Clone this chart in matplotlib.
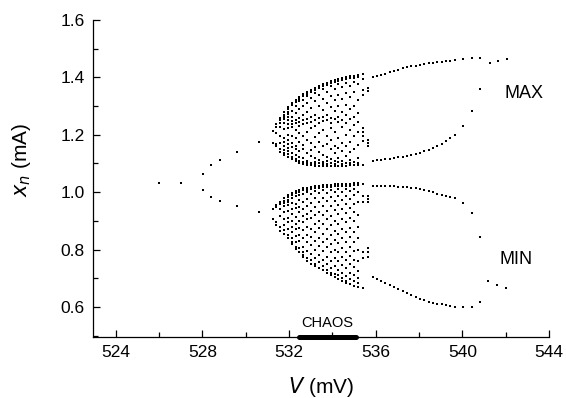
import matplotlib
matplotlib.use("Agg")
import matplotlib.pyplot as plt
from matplotlib.ticker import MultipleLocator, FormatStrFormatter

plt.rcParams['font.family'] = ['Liberation Sans', 'DejaVu Sans']

# ---- period-doubling route (V in mV, x_n in mA) ----
pre_v = [526.0, 527.0, 528.03, 528.03, 528.4, 528.4, 528.8, 528.8, 529.6, 529.6,
         530.6, 530.6, 531.24, 531.24, 531.24, 531.24]
pre_x = [1.033, 1.033, 1.063, 1.008, 1.094, 0.982, 1.113, 0.969, 1.140, 0.953,
         1.175, 0.931, 1.212, 1.172, 0.940, 0.906]

# ---- chaotic region: one column of maxima / minima per V ----
chaos_v = [531.40, 531.58, 531.76, 531.94, 532.12, 532.30, 532.48, 532.66, 532.84,
           533.02, 533.20, 533.38, 533.56, 533.74, 533.92, 534.10, 534.28, 534.46,
           534.64, 534.82, 535.00, 535.18, 535.42, 535.65]
chaos_max = [
    [1.236, 1.228, 1.206, 1.166, 1.160],
    [1.258, 1.250, 1.242, 1.228, 1.195, 1.170, 1.150, 1.140],
    [1.278, 1.270, 1.262, 1.254, 1.240, 1.221, 1.190, 1.176, 1.160, 1.148, 1.138, 1.128],
    [1.296, 1.288, 1.280, 1.272, 1.262, 1.250, 1.236, 1.222, 1.200, 1.180, 1.166, 1.155, 1.145, 1.133, 1.121],
    [1.310, 1.302, 1.284, 1.262, 1.247, 1.236, 1.226, 1.195, 1.170, 1.158, 1.138, 1.124, 1.114],
    [1.322, 1.314, 1.300, 1.275, 1.252, 1.241, 1.218, 1.188, 1.162, 1.150, 1.128, 1.114, 1.107],
    [1.333, 1.326, 1.318, 1.290, 1.258, 1.246, 1.232, 1.205, 1.176, 1.142, 1.121, 1.108, 1.102],
    [1.342, 1.335, 1.322, 1.300, 1.268, 1.250, 1.238, 1.196, 1.165, 1.150, 1.118, 1.104, 1.098],
    [1.350, 1.343, 1.334, 1.310, 1.280, 1.255, 1.240, 1.210, 1.180, 1.135, 1.110, 1.101, 1.095],
    [1.357, 1.350, 1.328, 1.292, 1.262, 1.244, 1.222, 1.170, 1.148, 1.125, 1.100, 1.093],
    [1.363, 1.356, 1.346, 1.318, 1.270, 1.252, 1.230, 1.192, 1.158, 1.118, 1.106, 1.098, 1.092],
    [1.369, 1.362, 1.340, 1.300, 1.258, 1.240, 1.205, 1.176, 1.140, 1.112, 1.100, 1.092],
    [1.375, 1.368, 1.358, 1.326, 1.285, 1.262, 1.248, 1.215, 1.160, 1.130, 1.105, 1.098, 1.092],
    [1.381, 1.374, 1.350, 1.312, 1.270, 1.252, 1.196, 1.168, 1.122, 1.108, 1.098, 1.092],
    [1.386, 1.379, 1.368, 1.335, 1.296, 1.258, 1.240, 1.225, 1.180, 1.150, 1.116, 1.100, 1.092],
    [1.390, 1.383, 1.360, 1.320, 1.282, 1.255, 1.210, 1.162, 1.135, 1.110, 1.098, 1.092],
    [1.394, 1.387, 1.375, 1.340, 1.300, 1.262, 1.245, 1.190, 1.155, 1.120, 1.104, 1.092],
    [1.397, 1.390, 1.365, 1.325, 1.278, 1.250, 1.228, 1.172, 1.142, 1.108, 1.098, 1.092],
    [1.400, 1.393, 1.380, 1.345, 1.305, 1.268, 1.240, 1.200, 1.160, 1.125, 1.100, 1.092],
    [1.403, 1.396, 1.370, 1.330, 1.290, 1.255, 1.215, 1.175, 1.140, 1.112, 1.100, 1.093],
    [1.406, 1.399, 1.385, 1.350, 1.300, 1.262, 1.235, 1.195, 1.150, 1.105, 1.093],
    [1.409, 1.402, 1.375, 1.320, 1.275, 1.245, 1.210, 1.165, 1.120, 1.100, 1.093],
    [1.411, 1.395, 1.356, 1.338, 1.222, 1.210, 1.195, 1.178, 1.093],
    [1.362, 1.352, 1.182, 1.170, 1.160],
]
chaos_min = [
    [0.955, 0.948, 0.895, 0.884],
    [0.965, 0.958, 0.940, 0.918, 0.880, 0.866],
    [0.978, 0.970, 0.962, 0.950, 0.930, 0.905, 0.885, 0.868, 0.855],
    [0.990, 0.982, 0.974, 0.965, 0.955, 0.935, 0.910, 0.895, 0.870, 0.852, 0.840],
    [0.998, 0.990, 0.980, 0.962, 0.940, 0.925, 0.900, 0.880, 0.862, 0.840, 0.825, 0.818],
    [1.004, 0.997, 0.985, 0.960, 0.945, 0.915, 0.890, 0.870, 0.848, 0.825, 0.810, 0.802],
    [1.009, 1.002, 0.990, 0.972, 0.948, 0.930, 0.900, 0.875, 0.850, 0.830, 0.805, 0.790],
    [1.013, 1.006, 0.995, 0.965, 0.940, 0.918, 0.895, 0.868, 0.840, 0.810, 0.790, 0.780, 0.773],
    [1.016, 1.009, 1.000, 0.975, 0.952, 0.925, 0.905, 0.880, 0.850, 0.825, 0.795, 0.770, 0.760],
    [1.019, 1.012, 0.992, 0.962, 0.935, 0.910, 0.870, 0.845, 0.815, 0.785, 0.762, 0.750],
    [1.021, 1.014, 1.004, 0.978, 0.948, 0.920, 0.890, 0.860, 0.830, 0.800, 0.770, 0.750, 0.743],
    [1.023, 1.016, 0.996, 0.965, 0.930, 0.900, 0.875, 0.840, 0.812, 0.780, 0.755, 0.736],
    [1.024, 1.017, 1.006, 0.980, 0.950, 0.922, 0.888, 0.855, 0.825, 0.795, 0.765, 0.742, 0.730],
    [1.025, 1.018, 0.998, 0.968, 0.935, 0.905, 0.870, 0.838, 0.808, 0.775, 0.750, 0.728, 0.720],
    [1.026, 1.019, 1.008, 0.982, 0.952, 0.918, 0.885, 0.850, 0.820, 0.790, 0.760, 0.735, 0.718, 0.710],
    [1.027, 1.020, 1.000, 0.970, 0.938, 0.900, 0.865, 0.835, 0.800, 0.770, 0.742, 0.715, 0.703],
    [1.028, 1.021, 1.010, 0.985, 0.955, 0.925, 0.890, 0.855, 0.822, 0.790, 0.760, 0.730, 0.710, 0.697],
    [1.029, 1.022, 1.002, 0.972, 0.940, 0.905, 0.870, 0.840, 0.805, 0.775, 0.745, 0.718, 0.700, 0.690],
    [1.030, 1.023, 1.012, 0.988, 0.958, 0.928, 0.895, 0.860, 0.826, 0.792, 0.762, 0.735, 0.708, 0.692, 0.684],
    [1.030, 1.023, 1.004, 0.975, 0.945, 0.910, 0.875, 0.842, 0.808, 0.778, 0.748, 0.720, 0.698, 0.680],
    [1.031, 1.024, 1.012, 0.990, 0.960, 0.930, 0.898, 0.862, 0.828, 0.795, 0.765, 0.738, 0.710, 0.690, 0.674],
    [1.031, 1.024, 1.000, 0.965, 0.920, 0.880, 0.840, 0.800, 0.760, 0.725, 0.700, 0.682, 0.670],
    [1.030, 0.985, 0.965, 0.790, 0.770, 0.665],
    [0.987, 0.977, 0.967, 0.804, 0.790, 0.775],
]

# ---- period-2 branches after the chaotic window ----
post_v = [535.86, 536.05, 536.25, 536.45, 536.65, 536.85, 537.05, 537.25, 537.45, 537.65,
          537.85, 538.05, 538.25, 538.45, 538.65, 538.85, 539.05, 539.25, 539.45, 539.65,
          540.04, 540.43, 540.81]
post_max_hi = [1.400, 1.404, 1.408, 1.413, 1.418, 1.423, 1.427, 1.431, 1.435, 1.438,
               1.441, 1.444, 1.447, 1.449, 1.451, 1.453, 1.455, 1.457, 1.458, 1.459,
               1.463, 1.466, 1.466]
post_max_lo = [1.108, 1.111, 1.113, 1.115, 1.117, 1.119, 1.121, 1.123, 1.126, 1.129,
               1.133, 1.137, 1.142, 1.148, 1.154, 1.161, 1.168, 1.177, 1.187, 1.199,
               1.231, 1.281, 1.359]
post_min_hi = [1.022, 1.022, 1.022, 1.021, 1.021, 1.020, 1.019, 1.018, 1.017, 1.016,
               1.014, 1.011, 1.007, 1.003, 0.999, 0.995, 0.991, 0.987, 0.983, 0.979,
               0.961, 0.926, 0.845]
post_min_lo = [0.703, 0.698, 0.692, 0.685, 0.678, 0.670, 0.662, 0.654, 0.647, 0.640,
               0.634, 0.628, 0.623, 0.619, 0.615, 0.612, 0.609, 0.607, 0.604, 0.601,
               0.599, 0.601, 0.618]

# ---- period-1 again ----
end_v_max = [541.27, 541.66, 542.05]
end_max = [1.451, 1.458, 1.463]
end_v_min = [541.18, 541.60, 542.00]
end_min = [0.691, 0.677, 0.666]

chaos_band = [532.47, 535.09]

# ------------------------------------------------------------------
fig = plt.figure(figsize=(5.66, 3.98), dpi=100)
ax = fig.add_axes([0.164, 0.153, 0.806, 0.797])

pts_v, pts_x = [], []
pts_v += pre_v
pts_x += pre_x
for v, col in zip(chaos_v, chaos_max):
    pts_v += [v] * len(col)
    pts_x += col
for v, col in zip(chaos_v, chaos_min):
    pts_v += [v] * len(col)
    pts_x += col
for series in (post_max_hi, post_max_lo, post_min_hi, post_min_lo):
    pts_v += post_v
    pts_x += series
pts_v += end_v_max + end_v_min
pts_x += end_max + end_min

ax.scatter(pts_v, pts_x, s=3.2, marker='s', color='black', linewidths=0, zorder=3)

# chaos bar on the axis
ax.plot(chaos_band, [0.495, 0.495], color='black', lw=3.6, solid_capstyle='round',
        clip_on=False, zorder=4)
ax.text(sum(chaos_band) / 2, 0.543, 'CHAOS', ha='center', va='center', fontsize=10.5)

ax.text(541.95, 1.343, 'MAX', ha='left', va='center', fontsize=13)
ax.text(541.72, 0.766, 'MIN', ha='left', va='center', fontsize=13)

ax.set_xlim(522.94, 544.0)
ax.set_ylim(0.495, 1.6)

ax.spines['top'].set_visible(False)
ax.spines['right'].set_visible(False)
for s in ('left', 'bottom'):
    ax.spines[s].set_linewidth(0.9)

ax.set_xticks([524, 528, 532, 536, 540, 544])
ax.xaxis.set_minor_locator(MultipleLocator(2))
ax.set_yticks([0.6, 0.8, 1.0, 1.2, 1.4, 1.6])
ax.yaxis.set_minor_locator(MultipleLocator(0.1))
ax.yaxis.set_major_formatter(FormatStrFormatter('%.1f'))

ax.tick_params(which='major', direction='in', length=5, width=0.9, labelsize=12.5, pad=6)
ax.tick_params(which='minor', direction='in', length=3.5, width=0.9)

ax.set_xlabel(r'$\mathit{V}$ (mV)', fontsize=15)
ax.set_ylabel(r'$\mathit{x_n}$ (mA)', fontsize=15)
ax.xaxis.set_label_coords(0.5, -0.118)
ax.yaxis.set_label_coords(-0.131, 0.56)

fig.savefig('out.png', dpi=100)
